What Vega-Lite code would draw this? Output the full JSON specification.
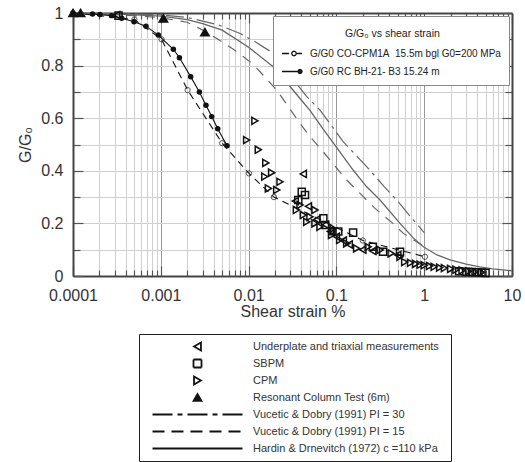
{
  "$schema": "https://vega.github.io/schema/vega-lite/v6.json",
  "width": 439,
  "height": 263,
  "autosize": {"type": "none"},
  "padding": {"left": 73, "top": 13, "right": 13, "bottom": 186},
  "background": "white",
  "config": {"view": {"stroke": null}, "font": "Liberation Sans"},
  "datasets": {
    "theory": [
      {"curve": "V30", "x": 0.0001, "y": 1.0},
      {"curve": "V30", "x": 0.0003, "y": 0.998},
      {"curve": "V30", "x": 0.001, "y": 0.993},
      {"curve": "V30", "x": 0.002, "y": 0.983},
      {"curve": "V30", "x": 0.0045, "y": 0.955},
      {"curve": "V30", "x": 0.0079, "y": 0.923},
      {"curve": "V30", "x": 0.012, "y": 0.89},
      {"curve": "V30", "x": 0.0191, "y": 0.847},
      {"curve": "V30", "x": 0.03, "y": 0.76},
      {"curve": "V30", "x": 0.046, "y": 0.682},
      {"curve": "V30", "x": 0.065, "y": 0.631},
      {"curve": "V30", "x": 0.0845, "y": 0.58},
      {"curve": "V30", "x": 0.12, "y": 0.51},
      {"curve": "V30", "x": 0.221, "y": 0.416},
      {"curve": "V30", "x": 0.35, "y": 0.34},
      {"curve": "V30", "x": 0.486, "y": 0.289},
      {"curve": "V30", "x": 0.7, "y": 0.225},
      {"curve": "V30", "x": 1.0, "y": 0.165},
      {"curve": "V15", "x": 0.0001, "y": 1.0},
      {"curve": "V15", "x": 0.0005, "y": 0.99},
      {"curve": "V15", "x": 0.001, "y": 0.982},
      {"curve": "V15", "x": 0.002, "y": 0.965},
      {"curve": "V15", "x": 0.003, "y": 0.935},
      {"curve": "V15", "x": 0.0045, "y": 0.9},
      {"curve": "V15", "x": 0.0067, "y": 0.862},
      {"curve": "V15", "x": 0.0113, "y": 0.805},
      {"curve": "V15", "x": 0.0209, "y": 0.707},
      {"curve": "V15", "x": 0.0385, "y": 0.58},
      {"curve": "V15", "x": 0.05, "y": 0.53},
      {"curve": "V15", "x": 0.068, "y": 0.479},
      {"curve": "V15", "x": 0.131, "y": 0.365},
      {"curve": "V15", "x": 0.275, "y": 0.257},
      {"curve": "V15", "x": 0.44, "y": 0.2},
      {"curve": "V15", "x": 0.58, "y": 0.162},
      {"curve": "V15", "x": 0.82, "y": 0.13},
      {"curve": "V15", "x": 1.0, "y": 0.112},
      {"curve": "HD", "x": 0.0001, "y": 1.0},
      {"curve": "HD", "x": 0.0003, "y": 0.997},
      {"curve": "HD", "x": 0.001, "y": 0.988},
      {"curve": "HD", "x": 0.002, "y": 0.975},
      {"curve": "HD", "x": 0.003, "y": 0.96},
      {"curve": "HD", "x": 0.005, "y": 0.935},
      {"curve": "HD", "x": 0.01, "y": 0.87},
      {"curve": "HD", "x": 0.02, "y": 0.79},
      {"curve": "HD", "x": 0.0385, "y": 0.675},
      {"curve": "HD", "x": 0.05, "y": 0.63},
      {"curve": "HD", "x": 0.07, "y": 0.56},
      {"curve": "HD", "x": 0.1, "y": 0.49},
      {"curve": "HD", "x": 0.155, "y": 0.403},
      {"curve": "HD", "x": 0.22, "y": 0.34},
      {"curve": "HD", "x": 0.314, "y": 0.289},
      {"curve": "HD", "x": 0.53, "y": 0.2},
      {"curve": "HD", "x": 0.75, "y": 0.145},
      {"curve": "HD", "x": 0.977, "y": 0.111},
      {"curve": "HD", "x": 1.4, "y": 0.08},
      {"curve": "HD", "x": 1.97, "y": 0.061},
      {"curve": "HD", "x": 3, "y": 0.045},
      {"curve": "HD", "x": 4.3, "y": 0.035},
      {"curve": "HD", "x": 6, "y": 0.027},
      {"curve": "HD", "x": 10, "y": 0.02}
    ],
    "sample": [
      {"sample": "G/G0 CO-CPM1A  15.5m bgl G0=200 MPa", "x": 0.0001, "y": 1.0},
      {"sample": "G/G0 CO-CPM1A  15.5m bgl G0=200 MPa", "x": 0.0005, "y": 0.975},
      {"sample": "G/G0 CO-CPM1A  15.5m bgl G0=200 MPa", "x": 0.00102, "y": 0.9},
      {"sample": "G/G0 CO-CPM1A  15.5m bgl G0=200 MPa", "x": 0.00202, "y": 0.707},
      {"sample": "G/G0 CO-CPM1A  15.5m bgl G0=200 MPa", "x": 0.005, "y": 0.505},
      {"sample": "G/G0 CO-CPM1A  15.5m bgl G0=200 MPa", "x": 0.0101, "y": 0.39},
      {"sample": "G/G0 CO-CPM1A  15.5m bgl G0=200 MPa", "x": 0.0194, "y": 0.3},
      {"sample": "G/G0 CO-CPM1A  15.5m bgl G0=200 MPa", "x": 0.2, "y": 0.135},
      {"sample": "G/G0 CO-CPM1A  15.5m bgl G0=200 MPa", "x": 1.02, "y": 0.073},
      {"sample": "G/G0 RC BH-21- B3 15.24 m", "x": 0.000167, "y": 0.996},
      {"sample": "G/G0 RC BH-21- B3 15.24 m", "x": 0.000203, "y": 0.994},
      {"sample": "G/G0 RC BH-21- B3 15.24 m", "x": 0.000276, "y": 0.99},
      {"sample": "G/G0 RC BH-21- B3 15.24 m", "x": 0.000359, "y": 0.98},
      {"sample": "G/G0 RC BH-21- B3 15.24 m", "x": 0.000495, "y": 0.967},
      {"sample": "G/G0 RC BH-21- B3 15.24 m", "x": 0.000678, "y": 0.95},
      {"sample": "G/G0 RC BH-21- B3 15.24 m", "x": 0.000937, "y": 0.916},
      {"sample": "G/G0 RC BH-21- B3 15.24 m", "x": 0.00139, "y": 0.862},
      {"sample": "G/G0 RC BH-21- B3 15.24 m", "x": 0.00163, "y": 0.83},
      {"sample": "G/G0 RC BH-21- B3 15.24 m", "x": 0.00219, "y": 0.758},
      {"sample": "G/G0 RC BH-21- B3 15.24 m", "x": 0.00275, "y": 0.7},
      {"sample": "G/G0 RC BH-21- B3 15.24 m", "x": 0.00327, "y": 0.649},
      {"sample": "G/G0 RC BH-21- B3 15.24 m", "x": 0.0038, "y": 0.606},
      {"sample": "G/G0 RC BH-21- B3 15.24 m", "x": 0.00445, "y": 0.56},
      {"sample": "G/G0 RC BH-21- B3 15.24 m", "x": 0.00568, "y": 0.495}
    ],
    "obs": [
      {"series": "Underplate and triaxial measurements", "x": 0.000314, "y": 0.992},
      {"series": "Underplate and triaxial measurements", "x": 0.042, "y": 0.388},
      {"series": "Underplate and triaxial measurements", "x": 0.034, "y": 0.285},
      {"series": "Underplate and triaxial measurements", "x": 0.048, "y": 0.265},
      {"series": "Underplate and triaxial measurements", "x": 0.06, "y": 0.215},
      {"series": "Underplate and triaxial measurements", "x": 0.075, "y": 0.195},
      {"series": "Underplate and triaxial measurements", "x": 0.085, "y": 0.17},
      {"series": "Underplate and triaxial measurements", "x": 0.1, "y": 0.15},
      {"series": "Underplate and triaxial measurements", "x": 0.12, "y": 0.135},
      {"series": "Underplate and triaxial measurements", "x": 0.14, "y": 0.12},
      {"series": "Underplate and triaxial measurements", "x": 0.2, "y": 0.1},
      {"series": "Underplate and triaxial measurements", "x": 0.26, "y": 0.095},
      {"series": "Underplate and triaxial measurements", "x": 0.5, "y": 0.08},
      {"series": "SBPM", "x": 0.00033, "y": 0.99},
      {"series": "SBPM", "x": 0.0368, "y": 0.289},
      {"series": "SBPM", "x": 0.0403, "y": 0.32},
      {"series": "SBPM", "x": 0.0439, "y": 0.308},
      {"series": "SBPM", "x": 0.071, "y": 0.219},
      {"series": "SBPM", "x": 0.0745, "y": 0.194},
      {"series": "SBPM", "x": 0.09, "y": 0.17},
      {"series": "SBPM", "x": 0.105, "y": 0.169},
      {"series": "SBPM", "x": 0.155, "y": 0.165},
      {"series": "SBPM", "x": 0.26, "y": 0.111},
      {"series": "SBPM", "x": 0.34, "y": 0.092},
      {"series": "SBPM", "x": 0.53, "y": 0.092},
      {"series": "SBPM", "x": 2.5, "y": 0.018},
      {"series": "SBPM", "x": 3, "y": 0.016},
      {"series": "SBPM", "x": 3.5, "y": 0.015},
      {"series": "SBPM", "x": 4, "y": 0.014},
      {"series": "SBPM", "x": 4.5, "y": 0.013},
      {"series": "SBPM", "x": 5, "y": 0.012},
      {"series": "CPM", "x": 0.0095, "y": 0.517},
      {"series": "CPM", "x": 0.0118, "y": 0.59},
      {"series": "CPM", "x": 0.0129, "y": 0.48},
      {"series": "CPM", "x": 0.0157, "y": 0.43},
      {"series": "CPM", "x": 0.0153, "y": 0.378},
      {"series": "CPM", "x": 0.0183, "y": 0.393},
      {"series": "CPM", "x": 0.0228, "y": 0.358},
      {"series": "CPM", "x": 0.0168, "y": 0.333},
      {"series": "CPM", "x": 0.0209, "y": 0.327},
      {"series": "CPM", "x": 0.0385, "y": 0.27},
      {"series": "CPM", "x": 0.035, "y": 0.251},
      {"series": "CPM", "x": 0.042, "y": 0.232},
      {"series": "CPM", "x": 0.05, "y": 0.225},
      {"series": "CPM", "x": 0.046, "y": 0.206},
      {"series": "CPM", "x": 0.057, "y": 0.251},
      {"series": "CPM", "x": 0.057, "y": 0.2},
      {"series": "CPM", "x": 0.065, "y": 0.187},
      {"series": "CPM", "x": 0.092, "y": 0.181},
      {"series": "CPM", "x": 0.088, "y": 0.156},
      {"series": "CPM", "x": 0.109, "y": 0.137},
      {"series": "CPM", "x": 0.131, "y": 0.124},
      {"series": "CPM", "x": 0.17, "y": 0.105},
      {"series": "CPM", "x": 0.23, "y": 0.111},
      {"series": "CPM", "x": 0.315, "y": 0.099},
      {"series": "CPM", "x": 0.42, "y": 0.086},
      {"series": "CPM", "x": 0.53, "y": 0.073},
      {"series": "CPM", "x": 0.6, "y": 0.053},
      {"series": "CPM", "x": 0.7, "y": 0.05},
      {"series": "CPM", "x": 0.8, "y": 0.046},
      {"series": "CPM", "x": 0.9, "y": 0.043},
      {"series": "CPM", "x": 1.0, "y": 0.041},
      {"series": "CPM", "x": 1.15, "y": 0.038},
      {"series": "CPM", "x": 1.3, "y": 0.035},
      {"series": "CPM", "x": 1.5, "y": 0.032},
      {"series": "CPM", "x": 1.7, "y": 0.03},
      {"series": "CPM", "x": 2, "y": 0.027},
      {"series": "CPM", "x": 2.3, "y": 0.024},
      {"series": "CPM", "x": 2.7, "y": 0.021},
      {"series": "CPM", "x": 3.2, "y": 0.018},
      {"series": "CPM", "x": 3.8, "y": 0.016},
      {"series": "CPM", "x": 4.5, "y": 0.014},
      {"series": "Resonant Column Test (6m)", "x": 0.0001, "y": 1.0},
      {"series": "Resonant Column Test (6m)", "x": 0.000122, "y": 1.0},
      {"series": "Resonant Column Test (6m)", "x": 0.00107, "y": 0.98},
      {"series": "Resonant Column Test (6m)", "x": 0.00318, "y": 0.927}
    ]
  },
  "layer": [
    {
      "data": {"name": "theory"},
      "transform": [{"filter": "datum.curve === 'V30'"}],
      "mark": {"type": "line", "color": "#666", "strokeWidth": 1.2, "strokeDash": [18, 5, 3, 5]},
      "encoding": {
        "x": {
          "field": "x", "type": "quantitative",
          "scale": {"type": "log", "domain": [0.0001, 10]},
          "axis": {
            "orient": "bottom",
            "values": [0.0001,0.0002,0.0003,0.0004,0.0005,0.0006,0.0007,0.0008,0.0009,0.001,0.002,0.003,0.004,0.005,0.006,0.007,0.008,0.009,0.01,0.02,0.03,0.04,0.05,0.06,0.07,0.08,0.09,0.1,0.2,0.3,0.4,0.5,0.6,0.7,0.8,0.9,1,2,3,4,5,6,7,8,9,10],
            "labelExpr": "indexof([0.0001,0.001,0.01,0.1,1,10], datum.value) >= 0 ? '' + datum.value : ''",
            "labelFlush": false,
            "labelOverlap": false,
            "labelFont": "Liberation Sans",
            "labelFontSize": 16,
            "labelColor": "#333",
            "labelPadding": 21,
            "tickSize": {"condition": {"test": "indexof([0.0001,0.001,0.01,0.1,1,10], datum.value) >= 0", "value": -10}, "value": -6},
            "tickColor": "#555",
            "tickWidth": 1.2,
            "grid": true,
            "gridColor": {"condition": {"test": "indexof([0.0001,0.001,0.01,0.1,1,10], datum.value) >= 0", "value": "#999"}, "value": "#d0d0d0"},
            "gridWidth": 1,
            "domainColor": "#444",
            "domainWidth": 2,
            "title": "Shear strain %",
            "titleFont": "Liberation Sans",
            "titleFontSize": 16,
            "titleFontWeight": "normal",
            "titleColor": "#333",
            "titlePadding": -4
          }
        },
        "y": {
          "field": "y", "type": "quantitative",
          "scale": {"domain": [0, 1], "nice": false},
          "axis": {
            "orient": "left",
            "values": [0,0.1,0.2,0.3,0.4,0.5,0.6,0.7,0.8,0.9,1],
            "labelExpr": "indexof([0,0.2,0.4,0.6,0.8,1], datum.value) >= 0 ? '' + datum.value : ''",
            "labelFlush": false,
            "labelOverlap": false,
            "labelFont": "Liberation Sans",
            "labelFontSize": 16,
            "labelColor": "#333",
            "labelPadding": 20,
            "tickSize": {"condition": {"test": "indexof([0,0.2,0.4,0.6,0.8,1], datum.value) >= 0", "value": -10}, "value": -7},
            "tickColor": "#555",
            "tickWidth": 1.2,
            "grid": true,
            "gridColor": "#d0d0d0",
            "gridWidth": 1,
            "domainColor": "#444",
            "domainWidth": 2,
            "title": "G/G₀",
            "titleFont": "Liberation Sans",
            "titleFontSize": 16,
            "titleFontWeight": "normal",
            "titleColor": "#333",
            "titlePadding": 7
          }
        }
      }
    },
    {
      "data": {"name": "theory"},
      "transform": [{"filter": "datum.curve === 'V15'"}],
      "mark": {"type": "line", "color": "#666", "strokeWidth": 1.2, "strokeDash": [10, 8]},
      "encoding": {
        "x": {
          "field": "x", "type": "quantitative",
          "axis": {
            "orient": "top",
            "values": [0.0001,0.0002,0.0003,0.0004,0.0005,0.0006,0.0007,0.0008,0.0009,0.001,0.002,0.003,0.004,0.005,0.006,0.007,0.008,0.009,0.01,0.02,0.03,0.04,0.05,0.06,0.07,0.08,0.09,0.1,0.2,0.3,0.4,0.5,0.6,0.7,0.8,0.9,1,2,3,4,5,6,7,8,9,10],
            "labels": false,
            "grid": false,
            "tickSize": {"condition": {"test": "indexof([0.0001,0.001,0.01,0.1,1,10], datum.value) >= 0", "value": -10}, "value": -6},
            "tickColor": "#555",
            "tickWidth": 1.2,
            "domainColor": "#444",
            "domainWidth": 2,
            "title": null
          }
        },
        "y": {
          "field": "y", "type": "quantitative",
          "axis": {
            "orient": "right",
            "values": [0,0.1,0.2,0.3,0.4,0.5,0.6,0.7,0.8,0.9,1],
            "labels": false,
            "grid": false,
            "tickSize": {"condition": {"test": "indexof([0,0.2,0.4,0.6,0.8,1], datum.value) >= 0", "value": -10}, "value": -7},
            "tickColor": "#555",
            "tickWidth": 1.2,
            "domainColor": "#444",
            "domainWidth": 2,
            "title": null
          }
        }
      }
    },
    {
      "data": {"name": "theory"},
      "transform": [{"filter": "datum.curve === 'HD'"}],
      "mark": {"type": "line", "color": "#666", "strokeWidth": 1.3},
      "encoding": {
        "x": {"field": "x", "type": "quantitative", "axis": null},
        "y": {"field": "y", "type": "quantitative", "axis": null}
      }
    },
    {
      "data": {"name": "obs"},
      "mark": {"type": "point", "filled": true, "opacity": 1, "strokeWidth": 1.5, "size": 50},
      "encoding": {
        "x": {"field": "x", "type": "quantitative", "axis": null},
        "y": {"field": "y", "type": "quantitative", "axis": null},
        "size": {"condition": {"test": "datum.series === 'Resonant Column Test (6m)'", "value": 70}, "value": 50},
        "stroke": {
          "field": "series", "type": "nominal",
          "scale": {
            "domain": ["Underplate and triaxial measurements", "SBPM", "CPM", "Resonant Column Test (6m)", "Vucetic & Dobry (1991) PI = 30", "Vucetic & Dobry (1991) PI = 15", "Hardin & Drnevitch (1972)  c  =110 kPa"],
            "range": ["#111", "#111", "#111", "#111", "#111", "#111", "#111"]
          }
        },
        "fill": {
          "field": "series", "type": "nominal",
          "scale": {
            "domain": ["Underplate and triaxial measurements", "SBPM", "CPM", "Resonant Column Test (6m)", "Vucetic & Dobry (1991) PI = 30", "Vucetic & Dobry (1991) PI = 15", "Hardin & Drnevitch (1972)  c  =110 kPa"],
            "range": ["transparent", "transparent", "transparent", "#111", "transparent", "transparent", "transparent"]
          }
        },
        "strokeDash": {
          "field": "series", "type": "nominal",
          "scale": {
            "domain": ["Underplate and triaxial measurements", "SBPM", "CPM", "Resonant Column Test (6m)", "Vucetic & Dobry (1991) PI = 30", "Vucetic & Dobry (1991) PI = 15", "Hardin & Drnevitch (1972)  c  =110 kPa"],
            "range": [[1, 0], [1, 0], [1, 0], [1, 0], [20, 5, 5, 5], [12, 7], [1, 0]]
          }
        },
        "shape": {
          "field": "series", "type": "nominal",
          "scale": {
            "domain": ["Underplate and triaxial measurements", "SBPM", "CPM", "Resonant Column Test (6m)", "Vucetic & Dobry (1991) PI = 30", "Vucetic & Dobry (1991) PI = 15", "Hardin & Drnevitch (1972)  c  =110 kPa"],
            "range": ["triangle-left", "square", "triangle-right", "triangle-up", "M-11.25,0H11.25", "M-11.25,0H11.25", "M-11.25,0H11.25"]
          },
          "legend": {
            "orient": "none",
            "legendX": 66,
            "legendY": 321,
            "direction": "vertical",
            "gridAlign": "all",
            "title": null,
            "padding": 7,
            "fillColor": "white",
            "strokeColor": "#222",
            "symbolSize": 64,
            "symbolOffset": 46,
            "labelOffset": 50,
            "symbolStrokeWidth": 1.8,
            "labelFont": "Liberation Sans",
            "labelFontSize": 11,
            "labelColor": "#333",
            "labelLimit": 400,
            "rowPadding": 0,
            "encode": {
              "legend": {"update": {"strokeWidth": {"value": 1.5}}}
            }
          }
        }
      }
    },
    {
      "data": {"name": "sample"},
      "transform": [{"filter": "datum.sample === 'G/G0 CO-CPM1A  15.5m bgl G0=200 MPa'"}],
      "mark": {"type": "line", "strokeWidth": 1.1, "strokeDash": [7, 5]},
      "encoding": {
        "x": {"field": "x", "type": "quantitative", "axis": null},
        "y": {"field": "y", "type": "quantitative", "axis": null},
        "color": {
          "field": "sample", "type": "nominal",
          "scale": {"domain": ["G/G0 CO-CPM1A  15.5m bgl G0=200 MPa", "G/G0 RC BH-21- B3 15.24 m"], "range": ["#111", "#111"]},
          "legend": {
            "orient": "top-right",
            "offset": 3,
            "title": "G/G₀ vs shear strain",
            "titleAnchor": "start",
            "titleAlign": "left",
            "titleFont": "Liberation Sans",
            "titleFontSize": 10.5,
            "titleFontWeight": "normal",
            "titleColor": "#222",
            "titlePadding": 13,
            "labelFont": "Liberation Sans",
            "labelFontSize": 10,
            "labelColor": "#222",
            "labelLimit": 300,
            "labelExpr": "datum.label === 'G/G0 CO-CPM1A  15.5m bgl G0=200 MPa' ? 'G/G0 CO-CPM1A\u00a0 15.5m bgl G0=200 MPa' : datum.label",
            "symbolSize": 100,
            "symbolOffset": 5,
            "labelOffset": 12,
            "symbolStrokeWidth": 1.3,
            "symbolStrokeColor": "#222",
            "padding": 8,
            "rowPadding": 7,
            "fillColor": "white",
            "strokeColor": "#888",
            "encode": {
              "title": {"update": {"dx": {"value": 64}, "dy": {"value": 5}}},
              "symbols": {"update": {
                "shape": {"signal": "datum.value === 'G/G0 CO-CPM1A  15.5m bgl G0=200 MPa' ? 'M-2,0H-0.6M0.86,0L0.725,0.325L0.4,0.46L0.075,0.325L-0.06,0L0.075,-0.325L0.4,-0.46L0.725,-0.325ZM0.86,0H2' : 'M-2,0H1.2M2,0L1.883,0.283L1.6,0.4L1.317,0.283L1.2,0L1.317,-0.283L1.6,-0.4L1.883,-0.283Z'"},
                "fill": {"signal": "datum.value === 'G/G0 CO-CPM1A  15.5m bgl G0=200 MPa' ? 'white' : '#222'"},
                "strokeDash": {"value": [1, 0]}
              }}
            }
          }
        }
      }
    },
    {
      "data": {"name": "sample"},
      "transform": [{"filter": "datum.sample === 'G/G0 RC BH-21- B3 15.24 m'"}],
      "mark": {"type": "line", "strokeWidth": 1.1},
      "encoding": {
        "x": {"field": "x", "type": "quantitative", "axis": null},
        "y": {"field": "y", "type": "quantitative", "axis": null},
        "color": {"field": "sample", "type": "nominal"}
      }
    },
    {
      "data": {"name": "sample"},
      "transform": [{"filter": "datum.sample === 'G/G0 CO-CPM1A  15.5m bgl G0=200 MPa'"}],
      "mark": {"type": "point", "shape": "circle", "filled": false, "color": "#111", "strokeWidth": 1, "size": 28},
      "encoding": {
        "x": {"field": "x", "type": "quantitative", "axis": null},
        "y": {"field": "y", "type": "quantitative", "axis": null}
      }
    },
    {
      "data": {"name": "sample"},
      "transform": [{"filter": "datum.sample === 'G/G0 RC BH-21- B3 15.24 m'"}],
      "mark": {"type": "point", "shape": "circle", "filled": true, "color": "#111", "opacity": 1, "size": 30},
      "encoding": {
        "x": {"field": "x", "type": "quantitative", "axis": null},
        "y": {"field": "y", "type": "quantitative", "axis": null}
      }
    }
  ]
}
